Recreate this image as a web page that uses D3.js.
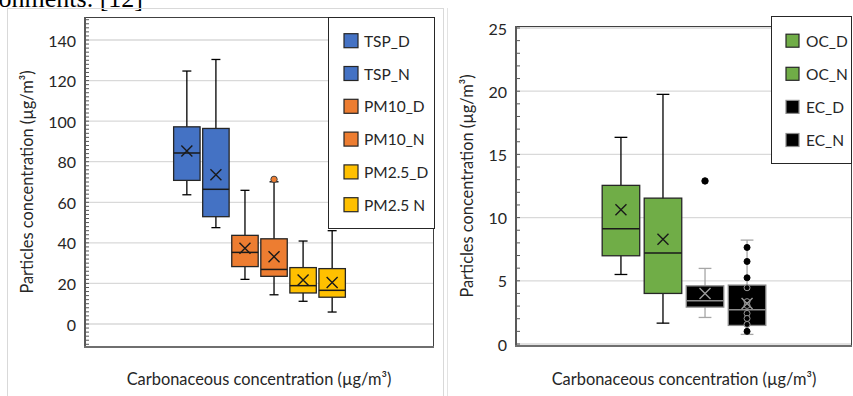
<!DOCTYPE html>
<html lang="en">
<head>
<meta charset="UTF-8">
<title>Particles and carbonaceous concentration box plots</title>
<style>
* { margin: 0; padding: 0; box-sizing: border-box; }
body { background: #fff; width: 853px; height: 396px; overflow: hidden; font-family: Lato, "Open Sans", sans-serif; }
svg { display: block; }
.tick-label { font-size: 16px; fill: #262626; text-anchor: end; dominant-baseline: central; }
.axis-title { font-size: 16.4px; fill: #262626; text-anchor: middle; }
.legend-label { font-size: 15.5px; fill: #262626; dominant-baseline: central; }
.grid { stroke: #d9d9d9; stroke-width: 1.3; }
</style>
</head>
<body>
<div id="chart"></div>
<script src="https://d3js.org/d3.v7.min.js"></script>
<script>
// Left panel: particle fractions (µg/m³)
var leftNames = ["TSP_D", "TSP_N", "PM10_D", "PM10_N", "PM2.5_D", "PM2.5 N"];
var leftMin = [63.7, 47.5, 22.0, 14.4, 11.2, 5.9];
var leftQ1 = [70.8, 52.9, 28.3, 23.5, 15.3, 13.2];
var leftMedian = [84.3, 66.4, 35.3, 26.9, 18.9, 16.6];
var leftQ3 = [97.2, 96.4, 43.7, 42.0, 27.8, 27.3];
var leftMax = [124.7, 130.4, 65.9, 70.1, 40.9, 46.0];
var leftMean = [85.3, 73.6, 37.3, 33.2, 21.7, 20.4];
var leftOutliers = [[], [], [], [71.3], [], []];
var leftTicks = [0, 20, 40, 60, 80, 100, 120, 140];

// Right panel: OC / EC (µg/m³)
var rightNames = ["OC_D", "OC_N", "EC_D", "EC_N"];
var rightMin = [5.5, 1.65, 2.1, 0.76];
var rightQ1 = [6.98, 4.0, 2.92, 1.47];
var rightMedian = [9.11, 7.19, 3.42, 2.71];
var rightQ3 = [12.55, 11.54, 4.6, 4.66];
var rightMax = [16.35, 19.75, 5.98, 8.22];
var rightMean = [10.62, 8.28, 4.0, 3.2];
var rightOutliers = [[], [], [12.9], []];
var rightInnerPoints = [[], [], [], [7.64, 6.53, 5.24, 4.45, 3.35, 3.05, 2.42, 2.02, 1.55, 1.0]];
var rightTicks = [0, 5, 10, 15, 20, 25];

var leftColors = ["#4472C4", "#4472C4", "#ED7D31", "#ED7D31", "#FFC000", "#FFC000"];
var rightColors = ["#70AD47", "#70AD47", "#000000", "#000000"];

var width = 853, height = 396;

var svg = d3.select("#chart").append("svg")
	.attr("width", width)
	.attr("height", height);

// cropped caption line from the page above the figure
svg.append("text")
	.attr("x", 143).attr("y", 7)
	.attr("text-anchor", "end")
	.style("font-family", "'Liberation Serif', serif")
	.style("font-size", "26px")
	.attr("fill", "#000")
	.text("environments. [12]");

// light outer frames of the two panels
svg.append("rect").attr("x", 7.5).attr("y", 8.5).attr("width", 436).attr("height", 400)
	.attr("fill", "none").attr("stroke", "#d9d9d9");
svg.append("line").attr("x1", 447.5).attr("x2", 447.5).attr("y1", 8).attr("y2", height)
	.attr("stroke", "#e3e3e3");

function drawPanel(cfg) {
	var g = svg.append("g");
	var y = d3.scaleLinear().domain(cfg.yDomain).range(cfg.yRange);
	var x = d3.scaleBand().domain(cfg.names)
		.range([cfg.left, cfg.right])
		.paddingInner(cfg.padInner)
		.paddingOuter(cfg.padOuter);
	var bw = x.bandwidth();

	// gridlines
	g.append("g").selectAll("line").data(cfg.ticks).join("line")
		.attr("class", "grid")
		.attr("x1", cfg.left).attr("x2", cfg.right)
		.attr("y1", function(d) { return y(d); })
		.attr("y2", function(d) { return y(d); });

	// plot frame (top / right thin, left / bottom axis heavier)
	g.append("line").attr("x1", cfg.left).attr("x2", cfg.right)
		.attr("y1", cfg.top + 0.5).attr("y2", cfg.top + 0.5)
		.attr("stroke", "#404040").attr("stroke-width", 1);
	g.append("line").attr("x1", cfg.right - 0.5).attr("x2", cfg.right - 0.5)
		.attr("y1", cfg.top).attr("y2", cfg.bottom)
		.attr("stroke", "#404040").attr("stroke-width", 1);

	// minor ticks on the value axis
	var minor = d3.range(cfg.minorFrom, cfg.minorTo + 0.001, cfg.minorStep)
		.filter(function(v) { return y(v) > cfg.top + 1 && y(v) < cfg.bottom - 1; });
	g.append("g").selectAll("line").data(minor).join("line")
		.attr("x1", cfg.left).attr("x2", cfg.left + 4)
		.attr("y1", function(d) { return y(d); })
		.attr("y2", function(d) { return y(d); })
		.attr("stroke", "#595959").attr("stroke-width", 1);

	g.append("line").attr("x1", cfg.left).attr("x2", cfg.left)
		.attr("y1", cfg.top).attr("y2", cfg.bottom + 1)
		.attr("stroke", "#595959").attr("stroke-width", 2);
	g.append("line").attr("x1", cfg.left - 1).attr("x2", cfg.right)
		.attr("y1", cfg.bottom).attr("y2", cfg.bottom)
		.attr("stroke", "#6f6f6f").attr("stroke-width", 2);

	// tick labels
	g.append("g").selectAll("text").data(cfg.ticks).join("text")
		.attr("class", "tick-label")
		.attr("x", cfg.left - 9)
		.attr("y", function(d) { return y(d); })
		.text(function(d) { return d; });

	// axis titles
	g.append("text").attr("class", "axis-title")
		.attr("transform", "translate(" + cfg.yTitleX + "," + cfg.yTitleY + ") rotate(-90)")
		.attr("dy", "0.35em")
		.text("Particles concentration (µg/m³)");
	g.append("text").attr("class", "axis-title")
		.attr("x", cfg.xTitleX).attr("y", 385)
		.text("Carbonaceous concentration (µg/m³)");

	// boxes
	cfg.names.forEach(function(name, i) {
		var cx = x(name) + bw / 2;
		var dark = cfg.colors[i] === "#000000";
		var lineCol = dark ? "#a6a6a6" : "#000";
		var capW = bw * 0.34;
		var b = g.append("g");

		b.append("line").attr("x1", cx).attr("x2", cx)
			.attr("y1", y(cfg.max[i])).attr("y2", y(cfg.min[i]))
			.attr("stroke", lineCol).attr("stroke-width", 1.3);
		[cfg.max[i], cfg.min[i]].forEach(function(v) {
			b.append("line").attr("x1", cx - capW / 2).attr("x2", cx + capW / 2)
				.attr("y1", y(v)).attr("y2", y(v))
				.attr("stroke", lineCol).attr("stroke-width", 1.3);
		});

		b.append("rect")
			.attr("x", x(name)).attr("width", bw)
			.attr("y", y(cfg.q3[i]))
			.attr("height", y(cfg.q1[i]) - y(cfg.q3[i]))
			.attr("fill", cfg.colors[i])
			.attr("stroke", dark ? "#8c8c8c" : "#262626")
			.attr("stroke-width", 1.3);

		b.append("line").attr("x1", x(name)).attr("x2", x(name) + bw)
			.attr("y1", y(cfg.median[i])).attr("y2", y(cfg.median[i]))
			.attr("stroke", dark ? "#8c8c8c" : "#1a1a1a").attr("stroke-width", 1.5);

		// inner points (drawn before the mean marker)
		(cfg.inner ? cfg.inner[i] : []).forEach(function(v) {
			var inBox = v <= cfg.q3[i] && v >= cfg.q1[i];
			b.append("circle").attr("cx", cx).attr("cy", y(v)).attr("r", 3)
				.attr("fill", "#000")
				.attr("stroke", inBox ? "#9a9a9a" : "#000").attr("stroke-width", 1);
		});

		var m = y(cfg.mean[i]), s = 5.5;
		b.append("path")
			.attr("d", "M" + (cx - s) + "," + (m - s) + "L" + (cx + s) + "," + (m + s) +
				"M" + (cx - s) + "," + (m + s) + "L" + (cx + s) + "," + (m - s))
			.attr("stroke", dark ? "#9a9a9a" : "#1a1a1a").attr("stroke-width", 1.4)
			.attr("fill", "none");

		cfg.outliers[i].forEach(function(v) {
			b.append("circle").attr("cx", cx).attr("cy", y(v)).attr("r", 3.2)
				.attr("fill", cfg.colors[i])
				.attr("stroke", dark ? "#000" : "#404040").attr("stroke-width", 1);
		});
	});

	// legend
	var lg = g.append("g");
	lg.append("rect")
		.attr("x", cfg.legend.x + 0.5).attr("y", cfg.legend.y + 0.5)
		.attr("width", cfg.legend.w).attr("height", cfg.legend.h)
		.attr("fill", "#fff").attr("stroke", "#262626").attr("stroke-width", 1);
	cfg.names.forEach(function(name, i) {
		var ly = cfg.legend.firstY + i * cfg.legend.step;
		var dark = cfg.colors[i] === "#000000";
		lg.append("rect")
			.attr("x", cfg.legend.swX).attr("y", ly - cfg.legend.sw / 2)
			.attr("width", cfg.legend.sw).attr("height", cfg.legend.sw)
			.attr("fill", cfg.colors[i])
			.attr("stroke", dark ? "#8c8c8c" : "#262626").attr("stroke-width", 1.2);
		lg.append("text").attr("class", "legend-label")
			.attr("x", cfg.legend.textX).attr("y", ly)
			.text(name);
	});
}

drawPanel({
	names: leftNames, colors: leftColors,
	min: leftMin, q1: leftQ1, median: leftMedian, q3: leftQ3, max: leftMax, mean: leftMean,
	outliers: leftOutliers, ticks: leftTicks,
	yDomain: [0, 140], yRange: [324, 40],
	left: 85, right: 434, top: 17, bottom: 347,
	padInner: 0.09, padOuter: 3.05,
	minorFrom: -10, minorTo: 150, minorStep: 2,
	yTitleX: 27, yTitleY: 182, xTitleX: 259,
	legend: { x: 328, y: 17, w: 106, h: 211, swX: 344, sw: 14, firstY: 40.7, step: 32.8, textX: 364 }
});

drawPanel({
	names: rightNames, colors: rightColors,
	min: rightMin, q1: rightQ1, median: rightMedian, q3: rightQ3, max: rightMax, mean: rightMean,
	outliers: rightOutliers, inner: rightInnerPoints, ticks: rightTicks,
	yDomain: [0, 25], yRange: [344, 28],
	left: 516, right: 852, top: 26, bottom: 346,
	padInner: 0.107, padOuter: 2.05,
	minorFrom: 0, minorTo: 25, minorStep: 1,
	yTitleX: 467, yTitleY: 186, xTitleX: 684,
	legend: { x: 771, y: 16, w: 80, h: 147, swX: 786, sw: 13, firstY: 40.7, step: 33.1, textX: 806 }
});
</script>
</body>
</html>
